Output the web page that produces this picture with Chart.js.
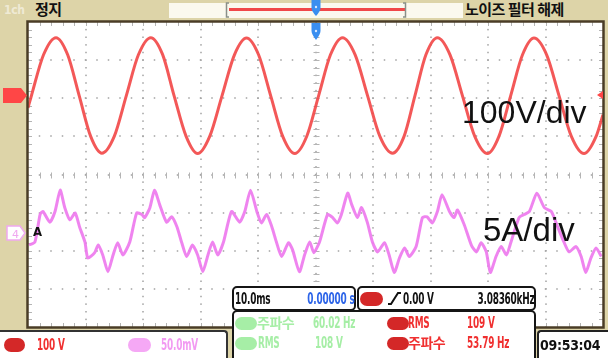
<!DOCTYPE html>
<html>
<head>
<meta charset="utf-8">
<script src="https://cdn.jsdelivr.net/npm/chart.js@4"></script>
<style>
  body { margin: 0; width: 608px; height: 358px; overflow: hidden; background: #ddd4a8; position: relative; }
  .abs { position: absolute; }
  #wrap { position: absolute; left: 26px; top: 20px; width: 579px; height: 309px; }
  .box { position: absolute; background: #fff; border: 2px solid #151515; border-radius: 5px; box-sizing: border-box; }
  .t { position: absolute; font-family: "Liberation Sans Narrow", "DejaVu Sans Condensed", sans-serif; font-weight: bold; font-size: 15px; line-height: 16px; white-space: nowrap; letter-spacing: -0.3px; }
  .n { transform: scaleX(0.66); transform-origin: left center; }
  .nr { transform: scaleX(0.66); transform-origin: right center; }
  .k { font-family: "Noto Sans CJK KR", sans-serif; font-weight: bold; font-size: 14px; letter-spacing: -0.5px; }
  .pill { position: absolute; border-radius: 7px; }
  .big { position: absolute; font-family: "Liberation Sans", Arial, sans-serif; color: #111; white-space: nowrap; }
</style>
</head>
<body>
<div id="wrap"><canvas id="scope"></canvas></div>

<!-- top bar -->
<div class="abs" style="left:169px;top:3px;width:294px;height:15px;background:#fbf9ee"></div>
<div class="abs" style="left:229px;top:8px;width:176px;height:3px;background:#f04848"></div>
<div class="t" style="left:4px;top:2px;color:#f4f0e0;font-size:12px;opacity:0.8">1ch</div>
<div class="t k" style="left:35px;top:0px;font-size:15px;line-height:18px;color:#111">정지</div>
<div class="t k" style="left:465px;top:0px;font-size:15px;line-height:18px;color:#111">노이즈 필터 해제</div>

<svg class="abs" style="left:0;top:0" width="608" height="358">
  <path d="M229,3 L226.5,3 L226.5,17 L229,17" fill="none" stroke="#8a9088" stroke-width="1.5"/>
  <path d="M403,3 L405.5,3 L405.5,17 L403,17" fill="none" stroke="#8a9088" stroke-width="1.5"/>
  <path d="M311.5,0 L320.5,0 L320.5,8 Q320.5,11 316,16 Q311.5,11 311.5,8 Z" fill="#3a8ef0"/>
  <circle cx="316" cy="7" r="1.2" fill="#d8e8ff"/>
  <path d="M311.5,23 L320.5,23 L320.5,31 Q320.5,34 316,40 Q311.5,34 311.5,31 Z" fill="#3a8ef0"/>
  <circle cx="316" cy="31" r="1.2" fill="#d8e8ff"/>
  <path d="M3,88 L21,88 L27,95.5 L21,103 L3,103 Z" fill="#ff4646"/>
  <path d="M7,226 L20,226 L25,233 L20,240 L7,240 Z" fill="#fff" stroke="#f0a8f0" stroke-width="1.5"/>
  <text x="12" y="238" font-family="DejaVu Sans" font-size="11" fill="#f0a8f0">4</text>
  <path d="M603,91 L597,95 L603,99 Z" fill="#ff4646"/>
</svg>
<div class="t" style="left:33px;top:224px;font-size:13px;color:#111">A</div>

<div class="big" style="left:462px;top:96px;font-size:32px;line-height:32px">100V/div</div>
<div class="big" style="left:483px;top:213px;font-size:33px;line-height:33px">5A/div</div>

<!-- measurement boxes -->
<div class="box" style="left:232px;top:286px;width:124px;height:25px"></div>
<div class="t n" style="left:235px;top:291px;color:#111">10.0ms</div>
<div class="t nr" style="right:254px;top:291px;color:#2c64e8">0.00000 s</div>

<div class="box" style="left:357px;top:286px;width:179px;height:25px"></div>
<div class="pill" style="left:360px;top:292px;width:23px;height:14px;background:#d42828"></div>
<svg class="abs" style="left:386px;top:290px" width="16" height="18">
  <path d="M2,14 L5,14 L12,3 L15,3" fill="none" stroke="#111" stroke-width="2"/>
</svg>
<div class="t n" style="left:403px;top:291px;color:#111">0.00 V</div>
<div class="t nr" style="right:73px;top:291px;color:#111">3.08360kHz</div>

<div class="box" style="left:232px;top:310px;width:304px;height:54px"></div>
<div class="pill" style="left:235px;top:317px;width:22px;height:13px;background:#a6eea6"></div>
<div class="t k" style="left:257px;top:314px;color:#a6eea6">주파수</div>
<div class="t n" style="left:313px;top:315px;color:#a6eea6">60.02 Hz</div>
<div class="pill" style="left:235px;top:337px;width:22px;height:13px;background:#a6eea6"></div>
<div class="t n" style="left:258px;top:335px;color:#a6eea6">RMS</div>
<div class="t n" style="left:315px;top:335px;color:#a6eea6">108 V</div>
<div class="pill" style="left:387px;top:317px;width:22px;height:13px;background:#d42828"></div>
<div class="t n" style="left:408px;top:315px;color:#f03030">RMS</div>
<div class="t n" style="left:467px;top:315px;color:#f03030">109 V</div>
<div class="pill" style="left:387px;top:337px;width:22px;height:13px;background:#d42828"></div>
<div class="t k" style="left:408px;top:334px;color:#f03030">주파수</div>
<div class="t n" style="left:467px;top:335px;color:#f03030">53.79 Hz</div>

<!-- bottom status -->
<div class="abs" style="left:0;top:330px;width:226px;height:30px;background:#fff;border-top:2px solid #333;border-right:2px solid #333;border-top-right-radius:4px"></div>
<div class="pill" style="left:4px;top:338px;width:21px;height:14px;background:#d42828"></div>
<div class="t n" style="left:37px;top:337px;color:#f03030">100 V</div>
<div class="pill" style="left:128px;top:338px;width:23px;height:14px;background:#f5a8f5"></div>
<div class="t n" style="left:161px;top:337px;color:#f29af2">50.0mV</div>
<div class="abs" style="left:537px;top:330px;width:75px;height:30px;background:#fff;border-top:2px solid #222;border-left:2px solid #222;border-top-left-radius:4px"></div>
<div class="t" style="left:540px;top:337px;color:#111;font-size:14px">09:53:04</div>

<script>
// time axis in ms (10 ms/div), vertical axis in screen divisions
const xDivs = [0, 10, 20, 30, 40, 50, 60, 70, 80, 90, 100];
const yDivs = [-4, -3, -2, -1, 0, 1, 2, 3, 4];

const V_PER_DIV = 100;   // 100V/div
const A_PER_DIV = 5;     // 5A/div
const V_ZERO = 2.07;     // channel 1 ground marker (div)
const A_ZERO = -1.53;    // channel 4 ground marker (div)

// line voltage, V
const voltTimes = [0, 0.6, 2.7, 4.87, 6.9, 8.9, 10.9, 12.85, 15.0, 17.1, 19.2, 21.35, 23.4, 25.4, 27.5, 29.5, 31.6, 33.75,
  35.9, 38.0, 40.1, 42.2, 44.3, 46.4, 48.5, 50.55, 52.6, 54.7, 56.9, 59.05, 61.2, 63.4, 65.4, 67.3, 69.2, 71.2, 73.4,
  75.55, 77.7, 79.9, 81.9, 83.95, 86.0, 88.0, 90.2, 92.35, 94.5, 96.7, 98.8, 100];
const voltValues = [-32, 0, 107, 152, 107, 0, -107, -151, -107, 0, 107, 152, 108, 0, -107, -152, -107, 0,
  107, 151, 107, 0, -107, -152, -106, 0, 107, 152, 107, 0, -107, -151, -107, 0, 107, 152, 107,
  0, -107, -152, -107, 0, 107, 151, 107, 0, -107, -152, -107, -50];

// load current, A
const currTimes = [0.17, 1.2, 2.1, 2.6, 3.8, 4.7, 5.6, 6.4, 7.3, 8.2, 9.0, 9.9, 10.4, 11.6, 12.2, 13.0, 13.9, 14.8, 15.6, 16.5,
  17.7, 18.9, 19.8, 20.3, 21.2, 22.0, 22.9, 24.1, 25.0, 25.9, 26.7, 27.6, 28.6, 29.5, 30.4, 31.3, 32.1, 33.0, 34.0,
  35.4, 36.8, 37.7, 38.7, 39.8, 40.6, 41.5, 42.4, 43.2, 44.1, 45.3, 46.0, 47.2, 48.1, 49.0, 49.7, 50.7,
  52.1, 53.0, 53.8, 54.5, 55.6, 56.3, 57.3, 58.0, 59.0, 59.9, 60.8, 62.0, 62.8, 63.7, 64.6, 65.5, 66.3, 67.5,
  68.6, 69.4, 70.3, 71.2, 72.0, 73.3, 74.1, 74.7, 75.9, 77.1, 78.0, 78.8, 79.7, 80.4, 81.4, 82.3, 83.2, 84.0,
  85.4, 86.3, 87.2, 88.5, 89.8, 91.0, 92.0, 93.2, 94.1, 95.3, 96.2, 97.0, 97.9, 98.8, 99.7];
const currValues = [-1.6, -1.2, 2.4, 2.8, 1.4, 2.8, 5.6, 3.3, 1.7, 2.6, 0.7, -1.2, -3.3, -2.6, -1.6, -2.9, -5.1, -2.9, -1.3, -2.9,
  -1.2, 2.6, 2.4, 2.0, 3.3, 5.6, 3.7, 1.4, 2.1, 0.8, -1.2, -3.1, -1.6, -2.9, -5.1, -2.9, -1.2, -2.9, -1.2,
  2.8, 1.4, 2.8, 5.6, 2.8, 1.3, 2.4, 0.8, -1.2, -3.1, -1.3, -2.2, -5.1, -2.9, -1.2, -2.6, -1.2,
  2.4, 2.0, 1.3, 2.4, 5.2, 3.7, 2.0, 3.3, 1.4, -1.2, -2.5, -1.3, -2.9, -5.2, -3.3, -2.0, -3.1, -1.8,
  2.0, 2.1, 1.3, 2.8, 5.0, 2.8, 2.0, 3.0, 1.0, -1.6, -2.5, -1.3, -2.5, -5.2, -3.1, -1.8, -2.9, -1.2,
  2.0, 2.4, 2.8, 5.2, 3.3, 2.8, 1.0, -1.2, -2.5, -1.8, -3.1, -5.2, -3.3, -2.0, -3.1];

const scopeGrid = {
  id: 'scopeGrid',
  beforeDraw(chart) {
    const { ctx, chartArea: a } = chart;
    ctx.save();
    ctx.fillStyle = '#ffffff';
    ctx.fillRect(a.left, a.top, a.right - a.left, a.bottom - a.top);
    ctx.restore();
  },
  beforeDatasetsDraw(chart) {
    const { ctx, chartArea: a, scales: { x, y } } = chart;
    ctx.save();
    ctx.fillStyle = '#a2a2a2';
    // dotted division lines
    xDivs.slice(1, -1).forEach(xv => {
      const px = Math.round(x.getPixelForValue(xv));
      for (let i = 0; i <= 40; i++) {
        const py = y.getPixelForValue(-4 + i * 0.2);
        ctx.fillRect(px - 0.75, py - 0.75, 1.5, 1.5);
      }
    });
    yDivs.slice(1, -1).forEach(yv => {
      const py = Math.round(y.getPixelForValue(yv));
      for (let i = 0; i <= 50; i++) {
        const px = x.getPixelForValue(i * 2);
        ctx.fillRect(px - 0.75, py - 0.75, 1.5, 1.5);
      }
    });
    // minor ticks on centre axes and border
    ctx.strokeStyle = '#b4b4b4';
    ctx.lineWidth = 1;
    ctx.beginPath();
    const cx = Math.round(x.getPixelForValue(50)) + 0.5;
    const cy = Math.round(y.getPixelForValue(0)) + 0.5;
    for (let i = 1; i < 40; i++) {
      const py = Math.round(y.getPixelForValue(-4 + i * 0.2)) + 0.5;
      ctx.moveTo(cx - 3, py); ctx.lineTo(cx + 3, py);
      ctx.moveTo(a.left, py); ctx.lineTo(a.left + 4, py);
      ctx.moveTo(a.right - 4, py); ctx.lineTo(a.right, py);
    }
    for (let i = 1; i < 50; i++) {
      const px = Math.round(x.getPixelForValue(i * 2)) + 0.5;
      ctx.moveTo(px, cy - 3); ctx.lineTo(px, cy + 3);
      ctx.moveTo(px, a.top); ctx.lineTo(px, a.top + 4);
      ctx.moveTo(px, a.bottom - 4); ctx.lineTo(px, a.bottom);
    }
    ctx.stroke();
    ctx.restore();
  },
  afterDraw(chart) {
    const { ctx, chartArea: a } = chart;
    ctx.save();
    ctx.strokeStyle = '#4a3c26';
    ctx.lineWidth = 2.5;
    ctx.strokeRect(a.left - 0.5, a.top - 0.5, a.right - a.left + 1, a.bottom - a.top + 1);
    ctx.restore();
  }
};

const ctx = document.getElementById('scope').getContext('2d');
new Chart(ctx, {
  type: 'line',
  data: {
    datasets: [
      {
        label: 'Voltage',
        data: voltTimes.map((t, i) => ({ x: t, y: voltValues[i] / V_PER_DIV + V_ZERO })),
        borderColor: 'rgba(242, 74, 74, 0.92)',
        borderWidth: 3,
        pointRadius: 0,
        cubicInterpolationMode: 'monotone',
        fill: false
      },
      {
        label: 'Current',
        data: currTimes.map((t, i) => ({ x: t, y: currValues[i] / A_PER_DIV + A_ZERO })),
        borderColor: 'rgba(238, 122, 238, 0.92)',
        borderWidth: 3,
        pointRadius: 0,
        tension: 0.2,
        fill: false
      }
    ]
  },
  options: {
    responsive: true,
    maintainAspectRatio: false,
    animation: false,
    layout: { padding: 2 },
    plugins: { legend: { display: false }, tooltip: { enabled: false } },
    scales: {
      x: { type: 'linear', display: false, min: 0, max: 100 },
      y: { type: 'linear', display: false, min: -4, max: 4 }
    }
  },
  plugins: [scopeGrid]
});
</script>
</body>
</html>
